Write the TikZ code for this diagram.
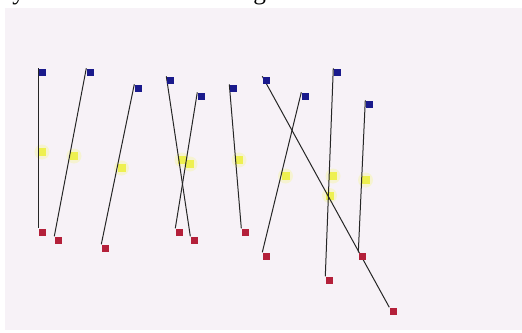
\documentclass[tikz,border=0pt]{standalone}
\usepackage{fontspec}
\setmainfont{Liberation Serif}
\usetikzlibrary{calc}
\definecolor{panel}{RGB}{247,242,247}
\definecolor{bsq}{RGB}{26,26,140}
\definecolor{rsq}{RGB}{180,32,58}
\definecolor{ysq}{RGB}{238,240,80}
\definecolor{yhalo}{RGB}{246,244,200}
\tikzset{
  sqbase/.style={rectangle, inner sep=0pt, minimum size=7pt, draw=none},
  bluesq/.style={sqbase, fill=bsq},
  redsq/.style={sqbase, fill=rsq},
  yelsq/.style={sqbase, minimum size=8pt, fill=ysq},
  halo/.style={circle, inner sep=0pt, minimum size=15pt, fill=yhalo, opacity=0.8},
  link/.style={draw=black!85, line width=1pt}
}
\begin{document}
\begin{tikzpicture}[x=1pt,y=-1pt]
\useasboundingbox (0,0) rectangle (522,332);
\fill[white] (0,0) rectangle (522,332);
\node[anchor=base west, inner sep=0pt, font=\fontsize{25.3}{30}\selectfont] (cap) at (1,-0.5) {ay nodes are shown in Figure 3.};
\fill[panel] (5,8) rectangle (522,330);
% blue (top) squares
\node[bluesq] (b1) at (42,72) {};
\node[bluesq] (b2) at (90,72) {};
\node[bluesq] (b3) at (138,88) {};
\node[bluesq] (b4) at (170,80) {};
\node[bluesq] (b5) at (201,96) {};
\node[bluesq] (b6) at (233,88) {};
\node[bluesq] (b7) at (266,80) {};
\node[bluesq] (b8) at (305,96) {};
\node[bluesq] (b9) at (337,72) {};
\node[bluesq] (b10) at (369,104) {};
% red (bottom) squares
\node[redsq] (r1) at (42,232) {};
\node[redsq] (r2) at (58,240) {};
\node[redsq] (r3) at (105,248) {};
\node[redsq] (r4) at (194,240) {};
\node[redsq] (r5) at (179,232) {};
\node[redsq] (r6) at (245,232) {};
\node[redsq] (r7) at (393,311) {};
\node[redsq] (r8) at (266,256) {};
\node[redsq] (r9) at (329,280) {};
\node[redsq] (r10) at (362,256) {};
% yellow midpoints
\foreach \i in {1,...,10}{
  \node[halo] (h\i) at ($(b\i)!0.5!(r\i)$) {};
}
\foreach \i in {1,...,10}{
  \node[yelsq] (y\i) at ($(b\i)!0.5!(r\i)$) {};
}
% links
\foreach \i in {1,...,10}{
  \draw[link] (b\i.north west) -- (r\i.north west);
}
% redraw end squares above the links
\foreach \i in {1,...,10}{
  \node[bluesq] at (b\i) {};
  \node[redsq] at (r\i) {};
}
\end{tikzpicture}
\end{document}
